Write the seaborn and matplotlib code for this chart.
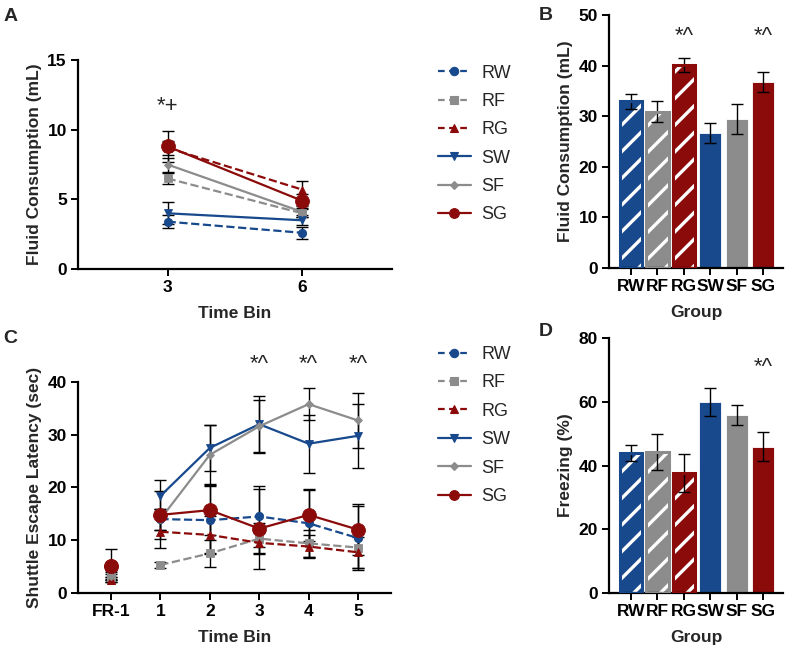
import numpy as np
import pandas as pd
import matplotlib
matplotlib.use("Agg")
import matplotlib.pyplot as plt
import seaborn as sns
from matplotlib.lines import Line2D
from matplotlib.patches import Rectangle

# figure drawn at 80 dpi (denser hatching); all point sizes scaled by K
DPI = 80
K = 100 / DPI

sns.set_style("ticks")
plt.rcParams['font.family'] = ['Liberation Sans', 'DejaVu Sans']
plt.rcParams['hatch.color'] = 'white'
plt.rcParams['hatch.linewidth'] = 2.4 * K

# groups and styles
groups = ["RW", "RF", "RG", "SW", "SF", "SG"]
BLUE, GRAY, RED = "#17498c", "#8c8c8c", "#8b0a0a"
colors = [BLUE, GRAY, RED, BLUE, GRAY, RED]

# Panel A: fluid consumption per time bin
a_bins = [3, 6]
a_mean = {"RW": [3.4, 2.6], "RF": [6.5, 4.0], "RG": [8.7, 5.7],
          "SW": [4.0, 3.5], "SF": [7.5, 4.1], "SG": [8.8, 4.9]}
a_err = {"RW": [0.45, 0.45], "RF": [0.4, 0.3], "RG": [0.5, 0.65],
         "SW": [0.8, 0.35], "SF": [0.5, 0.4], "SG": [1.1, 0.5]}

# Panel B: total fluid consumption
b_mean = [32.9, 30.9, 40.1, 26.7, 29.4, 36.8]
b_err = [1.5, 2.1, 1.3, 2.0, 3.0, 2.0]

# Panel C: shuttle escape latency
c_labels = ["FR-1", "1", "2", "3", "4", "5"]
c_mean = {"RW": [3.5, 14.0, 13.8, 14.5, 13.2, 10.4],
          "RF": [3.0, 5.3, 7.5, 10.3, 9.4, 8.6],
          "RG": [2.5, 11.6, 11.0, 9.5, 8.8, 7.7],
          "SW": [3.8, 18.4, 27.5, 32.0, 28.3, 29.8],
          "SF": [3.2, 14.0, 26.2, 31.6, 35.8, 32.7],
          "SG": [5.2, 14.8, 15.7, 12.2, 14.8, 12.0]}
c_err = {"RW": [0.8, 2.0, 6.5, 5.8, 6.3, 6.0],
         "RF": [0.6, 0.5, 2.5, 3.0, 2.6, 3.8],
         "RG": [0.5, 3.0, 3.5, 2.0, 2.2, 3.0],
         "SW": [0.8, 3.0, 4.3, 5.3, 5.5, 6.1],
         "SF": [0.7, 2.0, 5.6, 5.0, 3.1, 5.2],
         "SG": [3.2, 4.5, 4.8, 7.6, 5.0, 4.8]}

# Panel D: freezing
d_mean = [44.0, 44.3, 37.7, 60.0, 55.8, 45.9]
d_err = [2.6, 5.6, 5.9, 4.4, 3.1, 4.5]

styles = {"RW": ("o", "--", 6), "RF": ("s", "--", 6), "RG": ("^", "--", 6),
          "SW": ("v", "-", 6), "SF": ("D", "-", 4), "SG": ("o", "-", 10)}

fig = plt.figure(figsize=(787 / DPI, 653 / DPI), dpi=DPI)
axA = fig.add_axes([0.099, 0.588, 0.399, 0.320])
axB = fig.add_axes([0.774, 0.590, 0.221, 0.387])
axC = fig.add_axes([0.099, 0.092, 0.398, 0.323])
axD = fig.add_axes([0.774, 0.092, 0.221, 0.390])

TICK_FS = 12.5 * K
LAB_FS = 12.5 * K
LW = 1.6 * K


def style_axis(ax):
    sns.despine(ax=ax)
    for s in ["left", "bottom"]:
        ax.spines[s].set_linewidth(1.6 * K)
        ax.spines[s].set_color("black")
    ax.tick_params(width=1.4 * K, length=5 * K, labelsize=TICK_FS, colors="black", pad=3 * K)
    for lab in ax.get_xticklabels() + ax.get_yticklabels():
        lab.set_fontweight("bold")


def add_legend(ax, y):
    handles = []
    for g, c in zip(groups, colors):
        m, ls, ms = styles[g]
        handles.append(Line2D([], [], color=c, marker=m, linestyle=ls, linewidth=LW,
                              markersize=min(ms, 7) * K,
                              dashes=(3, 2) if ls == "--" else (None, None)))
    ax.legend(handles=handles, labels=groups, loc="upper left", bbox_to_anchor=(0.536, y),
              bbox_transform=fig.transFigure, frameon=False, fontsize=13 * K,
              handlelength=1.8, handletextpad=0.6, labelspacing=0.63)


def err(ax, x, m, e):
    ax.errorbar(x, m, yerr=e, fmt="none", ecolor="black", elinewidth=1 * K,
                capsize=4 * K, capthick=1 * K, zorder=2)


# Panel A
for g, c in zip(groups, colors):
    m, ls, ms = styles[g]
    df = pd.DataFrame({"bin": a_bins, "val": a_mean[g]})
    sns.lineplot(data=df, x="bin", y="val", ax=axA, color=c, linestyle=ls, linewidth=LW,
                 marker=m, markersize=ms * K, markeredgecolor=c, legend=False, zorder=3)
    err(axA, a_bins, a_mean[g], a_err[g])
axA.set_xlim(1, 8)
axA.set_ylim(0, 15)
axA.set_xticks([3, 6])
axA.set_yticks([0, 5, 10, 15])
axA.set_xlabel("Time Bin", fontsize=LAB_FS, fontweight="bold", labelpad=8 * K)
axA.set_ylabel("Fluid Consumption (mL)", fontsize=LAB_FS, fontweight="bold", labelpad=4 * K)
axA.text(3, 10.9, "*+", ha="center", va="bottom", fontsize=16 * K)
style_axis(axA)
add_legend(axA, 0.926)


def bar_panel(ax, means, errs):
    df = pd.DataFrame({"group": groups, "val": means})
    sns.barplot(data=df, x="group", y="val", hue="group", palette=colors, legend=False,
                ax=ax, width=0.84, errorbar=None, saturation=1)
    for i, p in enumerate(list(ax.patches)):
        p.set_edgecolor("white")
        p.set_linewidth(0.6 * K)
        if i < 3:
            p.set_hatch("/")
            ax.add_patch(Rectangle(p.get_xy(), p.get_width(), p.get_height(), fill=False,
                                   edgecolor=colors[i], linewidth=2.2 * K, zorder=3))
    err(ax, range(len(groups)), means, errs)
    ax.set_xlim(-0.83, 5.76)
    ax.set_xlabel("Group", fontsize=LAB_FS, fontweight="bold", labelpad=8 * K)


# Panel B
bar_panel(axB, b_mean, b_err)
axB.set_ylim(0, 50)
axB.set_yticks([0, 10, 20, 30, 40, 50])
axB.set_ylabel("Fluid Consumption (mL)", fontsize=LAB_FS, fontweight="bold", labelpad=4 * K)
for i in [2, 5]:
    axB.text(i, 43.6, "*^", ha="center", va="bottom", fontsize=16 * K)
style_axis(axB)

# Panel C
xs = np.arange(len(c_labels))
for g, c in zip(groups, colors):
    m, ls, ms = styles[g]
    df = pd.DataFrame({"x": xs[1:], "val": c_mean[g][1:]})
    sns.lineplot(data=df, x="x", y="val", ax=axC, color=c, linestyle=ls, linewidth=LW,
                 marker=m, markersize=ms * K, markeredgecolor=c, legend=False, zorder=3)
    axC.plot(xs[0], c_mean[g][0], marker=m, markersize=ms * K, color=c, linestyle="none", zorder=3)
    err(axC, xs, c_mean[g], c_err[g])
axC.set_xlim(-0.67, 5.67)
axC.set_ylim(0, 40)
axC.set_xticks(xs)
axC.set_xticklabels(c_labels)
axC.set_yticks([0, 10, 20, 30, 40])
axC.set_xlabel("Time Bin", fontsize=LAB_FS, fontweight="bold", labelpad=8 * K)
axC.set_ylabel("Shuttle Escape Latency (sec)", fontsize=LAB_FS, fontweight="bold", labelpad=4 * K)
for i in [3, 4, 5]:
    axC.text(i, 41.3, "*^", ha="center", va="bottom", fontsize=16 * K, clip_on=False)
style_axis(axC)
add_legend(axC, 0.495)

# Panel D
bar_panel(axD, d_mean, d_err)
axD.set_ylim(0, 80)
axD.set_yticks([0, 20, 40, 60, 80])
axD.set_ylabel("Freezing (%)", fontsize=LAB_FS, fontweight="bold", labelpad=4 * K)
axD.text(5, 67.5, "*^", ha="center", va="bottom", fontsize=16 * K)
style_axis(axD)

# panel letters
for lab, x, y in [("A", 0.004, 0.987), ("B", 0.684, 0.99), ("C", 0.004, 0.495), ("D", 0.684, 0.505)]:
    fig.text(x, y, lab, fontsize=14 * K, fontweight="bold", va="top")

fig.savefig("out.png", dpi=DPI)
